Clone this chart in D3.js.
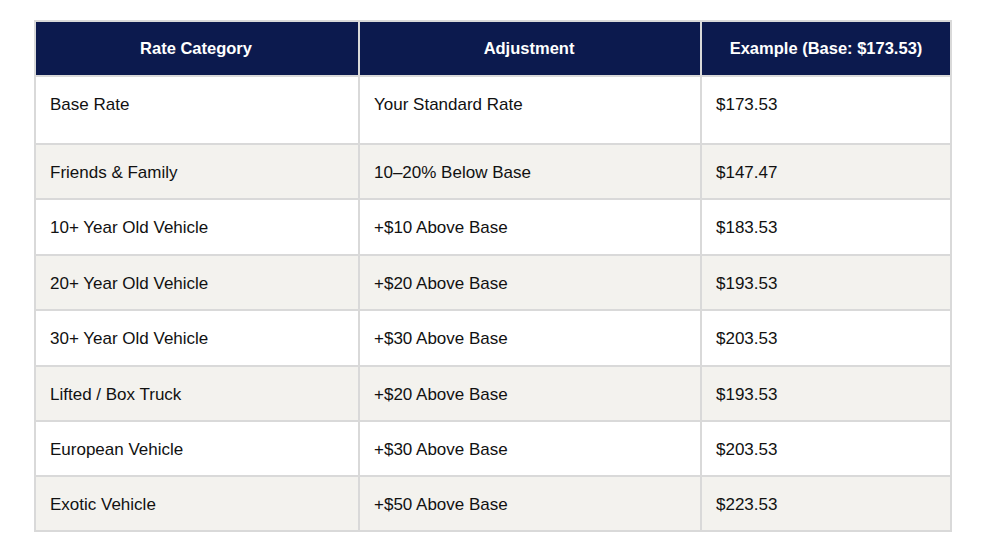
<!DOCTYPE html>
<html><head><meta charset="utf-8">
<script src="https://cdn.jsdelivr.net/npm/d3@7"></script>
<style>body{margin:0;background:#fff}</style></head>
<body><svg id="c" width="990" height="545"></svg>
<script>
const headers = ["Rate Category","Adjustment","Example (Base: $173.53)"];
const categories = ["Base Rate","Friends & Family","10+ Year Old Vehicle","20+ Year Old Vehicle","30+ Year Old Vehicle","Lifted / Box Truck","European Vehicle","Exotic Vehicle"];
const adjustments = ["Your Standard Rate","10–20% Below Base","+$10 Above Base","+$20 Above Base","+$30 Above Base","+$20 Above Base","+$30 Above Base","+$50 Above Base"];
const examples = ["$173.53","$147.47","$183.53","$193.53","$203.53","$193.53","$203.53","$223.53"];

const svg = d3.select("#c");
const colEdges = [34,358,700,952];
const rowHeights = [56,68,55,56,55,56,55,55,56];
const rowTops = [20]; rowHeights.forEach((h,i)=>rowTops.push(rowTops[i]+h));
const font = "'Liberation Sans', Arial, Helvetica, sans-serif";
const border = "#d9d9d9";
const rows = categories.map((c,i)=>[c,adjustments[i],examples[i]]);

// background
svg.append("rect").attr("x",colEdges[0]).attr("y",rowTops[0]).attr("width",colEdges[3]-colEdges[0]).attr("height",rowTops[9]-rowTops[0]).attr("fill",border);
// header
headers.forEach((h,j)=>{
  svg.append("rect").attr("x",colEdges[j]+2).attr("y",rowTops[0]+2).attr("width",colEdges[j+1]-colEdges[j]-(j==2?4:2)).attr("height",rowHeights[0]-3).attr("fill","#0c1a4e");
  svg.append("text").attr("x",(colEdges[j]+colEdges[j+1])/2).attr("y",rowTops[0]+28).attr("dy","0.35em").attr("text-anchor","middle")
    .attr("fill","#fff").attr("font-family",font).attr("font-weight","bold").attr("font-size",16.5).text(h);
});
rows.forEach((r,i)=>{
  const y0 = rowTops[i+1], h = rowHeights[i+1];
  r.forEach((t,j)=>{
    svg.append("rect").attr("x",colEdges[j]+2).attr("y",y0+1).attr("width",colEdges[j+1]-colEdges[j]-(j==2?4:2)).attr("height",h-(i==rows.length-1?3:2))
      .attr("fill", i%2==0?"#ffffff":"#f3f2ee");
    svg.append("text").attr("x",colEdges[j]+16).attr("y",y0+28).attr("dy","0.35em")
      .attr("fill","#111").attr("font-family",font).attr("font-size",17).text(t);
  });
});
</script></body></html>
